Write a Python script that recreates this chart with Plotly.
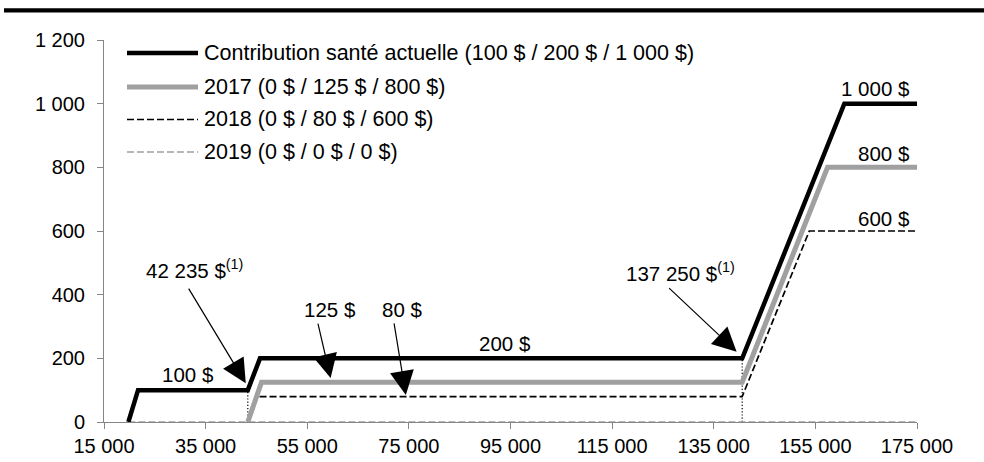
import plotly.graph_objects as go

# ---------------- data ----------------
income_current = [19800, 21700, 43300, 45700, 140600, 160700, 175000]
contrib_current = [0, 100, 100, 200, 200, 1000, 1000]

income_2017 = [43300, 46000, 140600, 157400, 175000]
contrib_2017 = [0, 125, 125, 800, 800]

income_2018 = [43300, 45000, 140600, 153800, 175000]
contrib_2018 = [0, 80, 80, 600, 600]

income_2019 = [19800, 175000]
contrib_2019 = [0, 0]

threshold_x = [43300, 140600]
threshold_top = [100, 200]

series_names = [
    "Contribution santé actuelle (100 $ / 200 $ / 1 000 $)",
    "2017 (0 $ / 125 $ / 800 $)",
    "2018 (0 $ / 80 $ / 600 $)",
    "2019 (0 $ / 0 $ / 0 $)",
]

x_ticks = [15000, 35000, 55000, 75000, 95000, 115000, 135000, 155000, 175000]
x_tick_labels = ["15 000", "35 000", "55 000", "75 000", "95 000",
                 "115 000", "135 000", "155 000", "175 000"]
y_ticks = [0, 200, 400, 600, 800, 1000, 1200]
y_tick_labels = ["0", "200", "400", "600", "800", "1 000", "1 200"]

# ---------------- layout geometry ----------------
W, H = 984, 462
L, R, T, B = 104, 917, 40, 422
FONT = "Liberation Sans, Arial, sans-serif"
GRAY = "#a0a0a0"
AXIS = "#868686"
TICK_FS = 20
LEG_FS = 21.5
LAB_FS = 20.5


def px_x(p):
    return (p - L) / (R - L)


def px_y(p):
    return (B - p) / (B - T)


fig = go.Figure()

styles = [
    dict(color="black", width=4.5),
    dict(color=GRAY, width=5),
    dict(color="black", width=1.7, dash="7px,3px"),
    dict(color=GRAY, width=1.7, dash="7px,3px"),
]
xs = [income_current, income_2017, income_2018, income_2019]
ys = [contrib_current, contrib_2017, contrib_2018, contrib_2019]

# dotted vertical threshold lines
for tx, ty in zip(threshold_x, threshold_top):
    fig.add_trace(go.Scatter(x=[tx, tx], y=[0, ty], mode="lines",
                             line=dict(color="black", width=1.2, dash="1.2px,2px"),
                             showlegend=False, hoverinfo="skip"))

for i in [3, 2, 1, 0]:
    fig.add_trace(go.Scatter(x=xs[i], y=ys[i], mode="lines", name=series_names[i],
                             line=styles[i], showlegend=False))

shapes = []
annotations = []

# top heavy rule
shapes.append(dict(type="rect", xref="paper", yref="paper",
                   x0=px_x(4), x1=px_x(990), y0=px_y(12.5), y1=px_y(8.3),
                   fillcolor="black", line=dict(width=0), layer="above"))

# manual legend
leg_rows = [53, 87, 119.5, 152]
for i, yy in enumerate(leg_rows):
    st = styles[i]
    shapes.append(dict(type="line", xref="paper", yref="paper",
                       x0=px_x(127), x1=px_x(198), y0=px_y(yy), y1=px_y(yy),
                       line=dict(color=st["color"], width=st["width"],
                                 dash=st.get("dash", "solid"))))
    annotations.append(dict(xref="paper", yref="paper", x=px_x(202), y=px_y(yy),
                            text=series_names[i], showarrow=False,
                            xanchor="left", yanchor="middle",
                            font=dict(size=LEG_FS, color="black", family=FONT)))

# value labels
text_labels = [
    ("100 $", 31500, 148, "center"),
    ("125 $", 59500, 352, "center"),
    ("80 $", 73700, 352, "center"),
    ("200 $", 93900, 248, "center"),
    ("1 000 $", 174000, 1049, "right"),
    ("800 $", 174000, 845, "right"),
    ("600 $", 174000, 638, "right"),
    ("42 235 $<sup>(1)</sup>", 32900, 480, "center"),
    ("137 250 $<sup>(1)</sup>", 128400, 470, "center"),
]
for txt, x, y, anc in text_labels:
    annotations.append(dict(x=x, y=y, xref="x", yref="y", text=txt, showarrow=False,
                            xanchor=anc, yanchor="middle",
                            font=dict(size=LAB_FS, color="black", family=FONT)))

# arrows (head position in data units, tail offset in pixels)
arrows = [
    (42900, 122, -58, -96),
    (59600, 138, -13, -56),
    (74400, 85, -12, -73),
    (139500, 221, -69, -65),
]
for x, y, ax, ay in arrows:
    annotations.append(dict(x=x, y=y, xref="x", yref="y", ax=ax, ay=ay,
                            text="", showarrow=True, arrowhead=2, arrowsize=4,
                            arrowwidth=1.2, arrowcolor="black", standoff=0))

fig.update_layout(
    width=W, height=H,
    margin=dict(l=L, r=W - R, t=T, b=H - B, pad=0, autoexpand=False),
    paper_bgcolor="white", plot_bgcolor="white",
    showlegend=False,
    font=dict(family=FONT, size=TICK_FS, color="black"),
    shapes=shapes, annotations=annotations,
    xaxis=dict(range=[15000, 175000], tickvals=x_ticks, ticktext=x_tick_labels,
               showline=True, linecolor=AXIS, linewidth=1, ticks="outside",
               ticklen=6, tickcolor=AXIS, showgrid=False, zeroline=False,
               automargin=False,
               tickfont=dict(size=TICK_FS, color="black", family=FONT)),
    yaxis=dict(range=[0, 1200], tickvals=y_ticks, ticktext=y_tick_labels,
               showline=True, linecolor=AXIS, linewidth=1, ticks="outside",
               ticklen=6, tickcolor=AXIS, showgrid=False, zeroline=False,
               ticklabelstandoff=8, automargin=False,
               tickfont=dict(size=TICK_FS, color="black", family=FONT)),
)

fig.write_html("out.html")
